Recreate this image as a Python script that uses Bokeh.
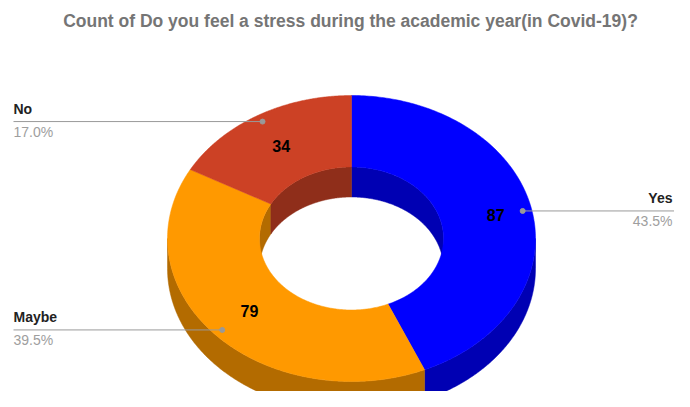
import numpy as np
from bokeh.plotting import figure
from bokeh.models import Range1d
from bokeh.core.properties import value
from bokeh.embed import file_html
from bokeh.resources import INLINE

# ---- data ----
categories = ["Yes", "Maybe", "No"]
counts = [87, 79, 34]
percent_labels = ["43.5%", "39.5%", "17.0%"]
top_colors = ["#0000FF", "#FF9900", "#CC4125"]
side_colors = ["#0000B3", "#B36B00", "#8F2E1A"]
title_text = "Count of Do you feel a stress during the academic year(in Covid-19)?"

# ---- layout (picture pixel coordinates) ----
W, H = 674, 391
CX, CY = 351.0, 238.0
RX, RY = 184.0, 143.0
HOLE = 0.5
DEPTH = 30.0
FONT = value("Liberation Sans")

p = figure(width=W, height=H, output_backend="svg", toolbar_location=None,
           x_range=Range1d(0, W), y_range=Range1d(H, 0),
           min_border=0)
p.axis.visible = False
p.grid.visible = False
p.outline_line_color = None
p.background_fill_color = "white"


def arc(a_from, a_to, k, dy=0.0, n=200):
    t = np.radians(np.linspace(a_from, a_to, n))
    return list(CX + k * RX * np.cos(t)), list(CY + dy - k * RY * np.sin(t))


def intersect(lo, hi, intervals):
    out = []
    for a, b in intervals:
        l, h = max(lo, a), min(hi, b)
        if h > l:
            out.append((l, h))
    return out


total = float(sum(counts))
fracs = [c / total for c in counts]
cum = np.concatenate([[0.0], np.cumsum(fracs)])
starts = [90 - 360 * cum[i] for i in range(len(counts))]
ends = [90 - 360 * cum[i + 1] for i in range(len(counts))]
mids = [(s + e) / 2 for s, e in zip(starts, ends)]

front = [(-540, -360), (-180, 0), (180, 360)]
back = [(-360, -180), (0, 180), (360, 540)]

# outer side walls (front half) and inner walls (back half, seen through the hole)
sx, sy, sc = [], [], []
for i in range(len(counts)):
    for lo, hi in intersect(ends[i], starts[i], front):
        x1, y1 = arc(lo, hi, 1.0)
        x2, y2 = arc(hi, lo, 1.0, DEPTH)
        sx.append(x1 + x2); sy.append(y1 + y2); sc.append(side_colors[i])
for i in range(len(counts)):
    for lo, hi in intersect(ends[i], starts[i], back):
        x1, y1 = arc(lo, hi, HOLE)
        x2, y2 = arc(hi, lo, HOLE, DEPTH)
        sx.append(x1 + x2); sy.append(y1 + y2); sc.append(side_colors[i])
p.patches(xs=sx, ys=sy, fill_color=sc, line_color=sc, line_width=0.5)

# top faces
tx, ty = [], []
for i in range(len(counts)):
    x1, y1 = arc(starts[i], ends[i], 1.0)
    x2, y2 = arc(ends[i], starts[i], HOLE)
    tx.append(x1 + x2); ty.append(y1 + y2)
p.patches(xs=tx, ys=ty, fill_color=top_colors, line_color=top_colors, line_width=0.5)

# value labels
mr = np.radians(mids)
vr = [0.8 if np.cos(m) > 0.5 else 0.75 for m in mr]
vx = CX + np.array(vr) * RX * np.cos(mr)
vy = CY - np.array(vr) * RY * np.sin(mr)
p.text(x=list(vx), y=list(vy), text=[str(c) for c in counts], text_font=FONT,
       text_font_size="16px", text_font_style="bold", text_color="#000000",
       text_align="center", text_baseline="middle")

# leader lines
dx = CX + 0.95 * RX * np.cos(mr)
dy = CY - 0.95 * RY * np.sin(mr)
lx0, lx1, ltx, lal = [], [], [], []
for i in range(len(counts)):
    if np.cos(mr[i]) >= 0:
        lx0.append(dx[i]); lx1.append(W); ltx.append(W - 2); lal.append("right")
    else:
        lx0.append(13); lx1.append(dx[i]); ltx.append(13); lal.append("left")
p.segment(x0=lx0, y0=list(dy), x1=lx1, y1=list(dy), line_color="#999999", line_width=1)
p.scatter(x=list(dx), y=list(dy), size=5, color="#999999")

p.text(x=ltx, y=list(dy - 13), text=categories, text_font=FONT, text_font_size="14px",
       text_font_style="bold", text_color="#222222", text_align=lal,
       text_baseline="alphabetic")
p.text(x=ltx, y=list(dy + 10), text=percent_labels, text_font=FONT, text_font_size="14px",
       text_color="#9E9E9E", text_align=lal, text_baseline="alphabetic")

# title
p.text(x=[350], y=[20], text=[title_text], text_font=FONT, text_font_size="17.5px",
       text_font_style="bold", text_color="#757575", text_align="center",
       text_baseline="alphabetic")

open("out.html", "w").write(file_html(p, INLINE))
